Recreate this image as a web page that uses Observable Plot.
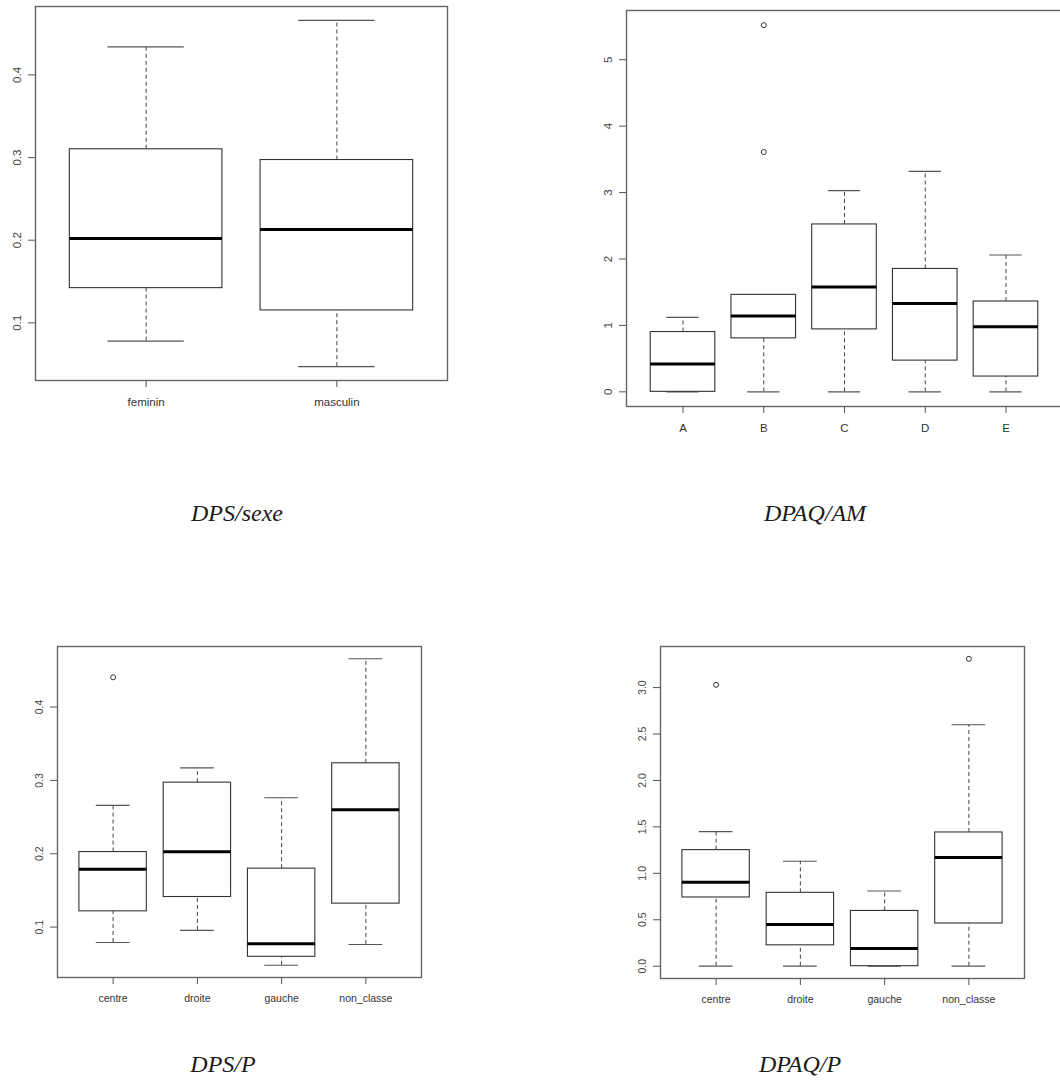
<!DOCTYPE html>
<html><head><meta charset="utf-8">
<script src="https://cdn.jsdelivr.net/npm/d3@7"></script>
<script src="https://cdn.jsdelivr.net/npm/@observablehq/plot@0.6"></script>
<style>
html,body{margin:0;padding:0;background:#fff;width:1060px;height:1089px;overflow:hidden;position:relative;}
.panel{position:absolute;}
.cap{position:absolute;font-family:"Liberation Serif","Times New Roman",serif;font-style:italic;font-size:24px;color:#1a1a1a;white-space:nowrap;transform:translateX(-50%);line-height:normal;}
</style></head><body>
<div id="p1" class="panel"></div>
<div id="p2" class="panel"></div>
<div id="p3" class="panel"></div>
<div id="p4" class="panel"></div>
<div class="cap" style="left:237px;top:500px">DPS/sexe</div>
<div class="cap" style="left:815px;top:500px">DPAQ/AM</div>
<div class="cap" style="left:223px;top:1051px">DPS/P</div>
<div class="cap" style="left:800px;top:1051px">DPAQ/P</div>
<script>
// Panel 1: DPS / sexe
const sexeCats = ["feminin", "masculin"];
const sexeLo  = [0.078, 0.047];
const sexeQ1  = [0.142, 0.115];
const sexeMed = [0.202, 0.213];
const sexeQ3  = [0.310, 0.297];
const sexeHi  = [0.434, 0.466];
const sexeOutCats = [];
const sexeOutVals = [];
const sexeTicks = [0.1, 0.2, 0.3, 0.4];

// Panel 2: DPAQ / AM
const amCats = ["A", "B", "C", "D", "E"];
const amLo  = [0, 0, 0, 0, 0];
const amQ1  = [0, 0.805, 0.94, 0.47, 0.23];
const amMed = [0.42, 1.14, 1.58, 1.33, 0.98];
const amQ3  = [0.90, 1.46, 2.52, 1.85, 1.36];
const amHi  = [1.12, 1.46, 3.03, 3.32, 2.06];
const amOutCats = ["B", "B"];
const amOutVals = [3.61, 5.52];
const amTicks = [0, 1, 2, 3, 4, 5];

// Panel 3: DPS / P
const partiCats = ["centre", "droite", "gauche", "non_classe"];
const dpsLo  = [0.079, 0.0955, 0.048, 0.0763];
const dpsQ1  = [0.1215, 0.141, 0.0595, 0.132];
const dpsMed = [0.1787, 0.2027, 0.0773, 0.2598];
const dpsQ3  = [0.2023, 0.2969, 0.1797, 0.3233];
const dpsHi  = [0.2658, 0.317, 0.2763, 0.4658];
const dpsOutCats = ["centre"];
const dpsOutVals = [0.4405];
const dpsTicks = [0.1, 0.2, 0.3, 0.4];

// Panel 4: DPAQ / P
const dpaqLo  = [0, 0, 0, 0];
const dpaqQ1  = [0.74, 0.225, 0, 0.46];
const dpaqMed = [0.905, 0.45, 0.19, 1.17];
const dpaqQ3  = [1.25, 0.79, 0.595, 1.44];
const dpaqHi  = [1.45, 1.13, 0.81, 2.60];
const dpaqOutCats = ["centre", "non_classe"];
const dpaqOutVals = [3.03, 3.31];
const dpaqTicks = [0, 0.5, 1.0, 1.5, 2.0, 2.5, 3.0];

function boxPanel(el, o) {
  const {cats, lo, q1, med, q3, hi, outCats, outVals, yTicks, yFormat, frame, ml, mr, mt, mb, fontSize} = o;
  const [L, T, R, B] = frame;
  const n = cats.length;
  const rows = cats.map((c, i) => ({cat: c, lo: lo[i], q1: q1[i], med: med[i], q3: q3[i], hi: hi[i]}));
  const outs = outCats.map((c, i) => ({cat: c, v: outVals[i]}));
  const all = [...lo, ...hi, ...outVals];
  const mn = d3.min(all), mx = d3.max(all), pad = (mx - mn) * 0.04;
  const po = 0.1 + 0.04 * n;
  const innerW = R - L;
  const step = innerW / (n - 0.2 + 2 * po);
  const bw = step * 0.8;
  const capInset = bw / 4;
  const width = innerW + ml + mr, height = (B - T) + mt + mb;
  const svg = Plot.plot({
    width, height, marginLeft: ml, marginRight: mr, marginTop: mt, marginBottom: mb,
    style: {fontFamily: "'Liberation Sans', Arial, sans-serif", fontSize: fontSize + "px", color: "#333", background: "transparent", maxWidth: "none", overflow: "visible"},
    x: {domain: cats, paddingInner: 0.2, paddingOuter: po, align: 0.5, round: false, label: null},
    y: {domain: [mn - pad, mx + pad], label: null},
    marks: [
      Plot.ruleX(rows, {x: "cat", y1: "q3", y2: "hi", stroke: "#444", strokeWidth: 1, strokeDasharray: "4,3"}),
      Plot.ruleX(rows, {x: "cat", y1: "lo", y2: "q1", stroke: "#444", strokeWidth: 1, strokeDasharray: "4,3"}),
      Plot.tickY(rows, {x: "cat", y: "hi", insetLeft: capInset, insetRight: capInset, stroke: "#555", strokeWidth: 1.2}),
      Plot.tickY(rows, {x: "cat", y: "lo", insetLeft: capInset, insetRight: capInset, stroke: "#555", strokeWidth: 1.2}),
      Plot.barY(rows, {x: "cat", y1: "q1", y2: "q3", fill: "white", stroke: "#333", strokeWidth: 1.1, insetLeft: 0, insetRight: 0}),
      Plot.tickY(rows, {x: "cat", y: "med", stroke: "#000", strokeWidth: 3}),
      Plot.dot(outs, {x: "cat", y: "v", r: 2.5, stroke: "#333", fill: "none", strokeWidth: 1}),
      Plot.frame({stroke: "#666", strokeWidth: 1.4}),
      Plot.axisX({tickSize: 7, tickPadding: 10, stroke: "#555", fill: "#333", label: null}),
      Plot.axisY({ticks: yTicks, tickFormat: yFormat, tickSize: 7, tickRotate: -90, tickPadding: 8, stroke: "#555", fill: "#444", label: null})
    ]
  });
  el.style.left = (L - ml) + "px";
  el.style.top = (T - mt) + "px";
  el.style.width = width + "px";
  el.style.height = height + "px";
  el.appendChild(svg);
}

boxPanel(document.getElementById("p1"), {
  cats: sexeCats, lo: sexeLo, q1: sexeQ1, med: sexeMed, q3: sexeQ3, hi: sexeHi,
  outCats: sexeOutCats, outVals: sexeOutVals, yTicks: sexeTicks, yFormat: d3.format(".1f"),
  frame: [35, 6, 447, 380], ml: 35, mr: 10, mt: 6, mb: 40, fontSize: 11.5
});
boxPanel(document.getElementById("p2"), {
  cats: amCats, lo: amLo, q1: amQ1, med: amMed, q3: amQ3, hi: amHi,
  outCats: amOutCats, outVals: amOutVals, yTicks: amTicks, yFormat: d3.format("d"),
  frame: [626, 10, 1062, 406], ml: 60, mr: 4, mt: 10, mb: 40, fontSize: 11.5
});
boxPanel(document.getElementById("p3"), {
  cats: partiCats, lo: dpsLo, q1: dpsQ1, med: dpsMed, q3: dpsQ3, hi: dpsHi,
  outCats: dpsOutCats, outVals: dpsOutVals, yTicks: dpsTicks, yFormat: d3.format(".1f"),
  frame: [57, 646, 421, 977], ml: 50, mr: 10, mt: 10, mb: 40, fontSize: 10.5
});
boxPanel(document.getElementById("p4"), {
  cats: partiCats, lo: dpaqLo, q1: dpaqQ1, med: dpaqMed, q3: dpaqQ3, hi: dpaqHi,
  outCats: dpaqOutCats, outVals: dpaqOutVals, yTicks: dpaqTicks, yFormat: d3.format(".1f"),
  frame: [660, 646, 1024, 978], ml: 50, mr: 10, mt: 10, mb: 40, fontSize: 10.5
});
</script>
</body></html>
